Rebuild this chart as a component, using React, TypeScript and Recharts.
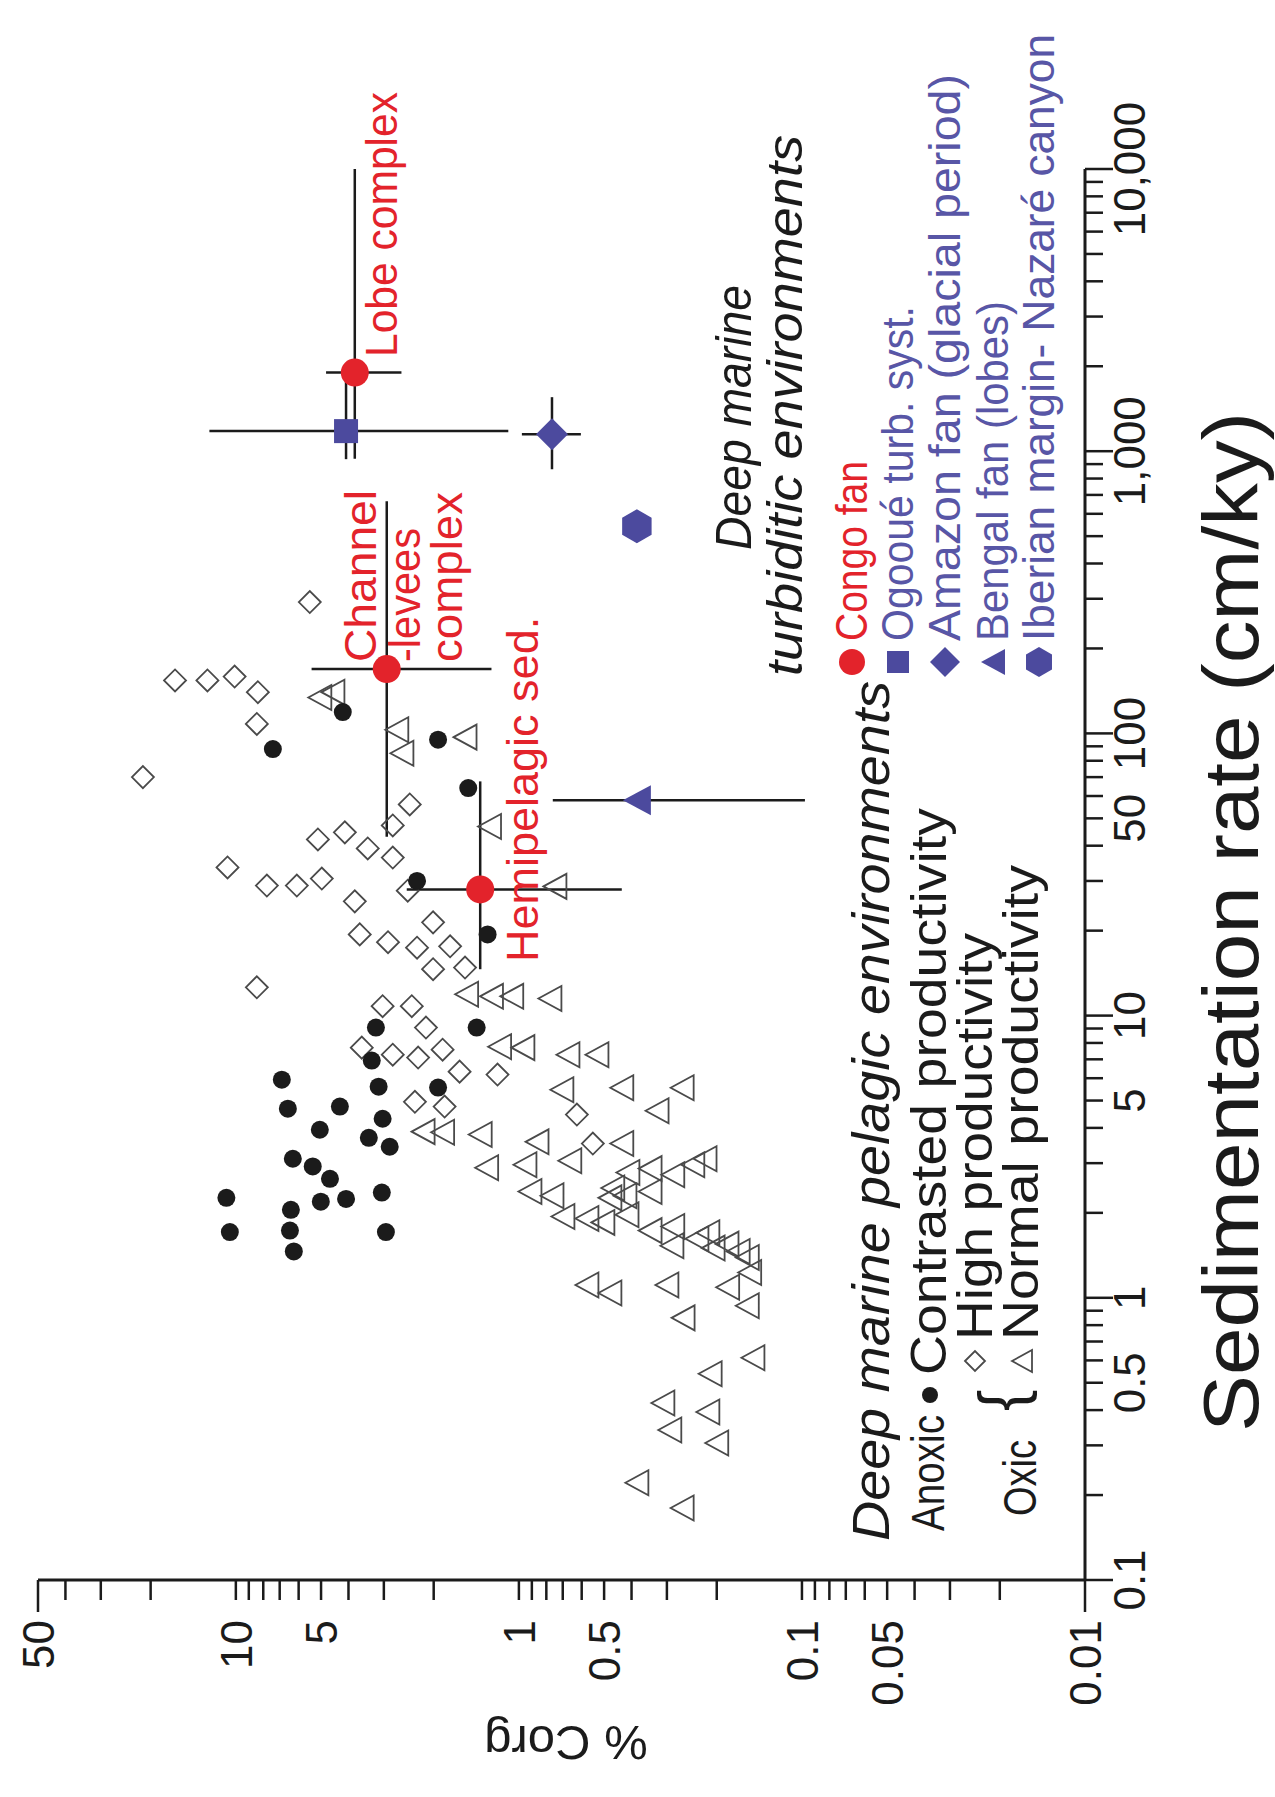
import { ScatterChart, Scatter, XAxis, YAxis, ErrorBar } from "recharts";

// The figure is printed rotated 90° counter-clockwise; the chart is drawn upright and the box is turned.
const W = 1797;
const H = 1275;
const FONT = "'Liberation Sans', Arial, Helvetica, sans-serif";
const RED = "#e3232b";
const BLUE = "#4c4a9e";
const BLUE_TEXT = "#5856a6";
const INK = "#1b1b1b";
const OPEN = "#4a4a4a";

// axis ticks
const sedTicks = [
  0.1, 0.2, 0.3, 0.4, 0.5, 0.6, 0.7, 0.8, 0.9, 1, 2, 3, 4, 5, 6, 7, 8, 9, 10, 20, 30, 40, 50, 60, 70, 80, 90,
  100, 200, 300, 400, 500, 600, 700, 800, 900, 1000, 2000, 3000, 4000, 5000, 6000, 7000, 8000, 9000, 10000,
];
const sedMajorTicks = [0.1, 1, 10, 100, 1000, 10000];
const sedLabelValues = [0.1, 0.5, 1, 5, 10, 50, 100, 1000, 10000];
const sedLabelText = ["0.1", "0.5", "1", "5", "10", "50", "100", "1,000", "10,000"];

const corgTicks = [
  0.01, 0.02, 0.03, 0.04, 0.05, 0.06, 0.07, 0.08, 0.09, 0.1, 0.2, 0.3, 0.4, 0.5, 0.6, 0.7, 0.8, 0.9, 1, 2, 3, 4,
  5, 6, 7, 8, 9, 10, 20, 30, 40, 50,
];
const corgLongTicks = [0.01, 50];
const corgLabelValues = [50, 10, 5, 1, 0.5, 0.1, 0.05, 0.01];
const corgLabelText = ["50", "10", "5", "1", "0.5", "0.1", "0.05", "0.01"];

// Deep marine pelagic environments: [sedimentation rate cm/ky, % Corg]
const anoxicContrasted: [number, number][] = [
  [119, 4.19], [88, 7.4], [95, 1.93], [64, 1.51], [30, 2.29], [19.4, 1.29],
  [9.07, 3.2], [9.07, 1.41], [6.93, 3.31], [5.93, 6.88], [5.6, 3.13], [5.56, 1.93],
  [4.68, 6.55], [4.76, 4.29], [4.31, 3.03], [3.94, 5.05], [3.69, 3.39], [3.43, 2.86],
  [3.11, 6.29], [2.92, 5.35], [2.64, 4.65], [2.26, 10.8], [2.19, 5.01], [2.24, 4.08],
  [2.36, 3.05], [2.05, 6.39], [1.71, 10.5], [1.73, 6.44], [1.71, 2.95], [1.46, 6.24],
];

const oxicHigh: [number, number][] = [
  [292, 5.48], [154, 16.4], [154, 12.6], [159, 10.1], [140, 8.36], [108, 8.43], [70, 21.3],
  [33.5, 10.7], [28.9, 7.77], [28.9, 6.09], [30.6, 4.97], [42.1, 5.13], [44.6, 4.12], [39.1, 3.42],
  [47.2, 2.79], [56, 2.43], [36.3, 2.79], [25.4, 3.8], [27.7, 2.47],
  [19.4, 3.65], [18.2, 2.9], [17.4, 2.29], [21.4, 2.01], [17.6, 1.75], [14.6, 2.01], [14.8, 1.55],
  [12.6, 8.43], [10.8, 3.03], [10.8, 2.39], [9.07, 2.13], [7.7, 3.59], [7.27, 2.79], [7.1, 2.27],
  [7.57, 1.86], [6.33, 1.62], [6.18, 1.19], [4.95, 2.33], [4.76, 1.83], [4.46, 0.624], [3.52, 0.548],
];

const oxicNormal: [number, number][] = [
  [134, 5.05], [140, 4.54], [103, 2.7], [85, 2.59], [97, 1.55], [46.8, 1.27], [28.7, 0.746],
  [11.9, 1.53], [11.7, 1.25], [11.7, 1.06], [11.5, 0.777], [7.76, 1.17], [7.7, 0.968],
  [7.27, 0.671], [7.27, 0.53], [5.46, 0.705], [5.55, 0.433], [5.55, 0.265], [4.6, 0.325],
  [3.88, 2.18], [3.86, 1.86], [3.79, 1.37], [3.57, 0.863], [3.52, 0.433], [2.89, 1.3],
  [2.96, 0.952], [3.06, 0.661], [2.38, 0.914], [2.3, 0.764],
  [2.45, 0.466], [2.78, 0.412], [2.87, 0.344], [2.73, 0.286], [2.96, 0.243], [3.11, 0.22],
  [2.26, 0.477], [2.3, 0.422], [2.38, 0.344], [1.94, 0.699], [1.91, 0.575], [1.85, 0.505],
  [1.97, 0.415], [1.73, 0.344], [1.79, 0.286], [1.53, 0.288], [1.62, 0.235], [1.7, 0.215],
  [1.5, 0.206], [1.55, 0.184], [1.46, 0.168], [1.39, 0.156], [1.23, 0.153], [1.09, 0.183],
  [0.937, 0.156], [1.11, 0.575], [1.04, 0.477], [1.11, 0.3], [0.849, 0.263], [0.613, 0.149],
  [0.538, 0.211], [0.424, 0.31], [0.394, 0.215], [0.34, 0.293], [0.306, 0.2], [0.221, 0.383],
  [0.18, 0.265],
];

// Deep marine turbiditic environments (value, then min–max ranges)
interface TurbRow {
  sed: number;
  corg: number;
  sedRange?: [number, number];
  corgRange?: [number, number];
}
const congoFan: TurbRow[] = [
  { sed: 1900, corg: 3.8, sedRange: [940, 10000], corgRange: [2.6, 4.8] }, // lobe complex
  { sed: 169, corg: 2.93, sedRange: [43, 665], corgRange: [1.25, 5.4] }, // channel-levees complex
  { sed: 28, corg: 1.37, sedRange: [14.6, 67.6], corgRange: [0.433, 2.49] }, // hemipelagic sed.
];
const ogooue: TurbRow[] = [{ sed: 1178, corg: 4.08, sedRange: [937, 1800], corgRange: [1.09, 12.4] }];
const amazonFan: TurbRow[] = [{ sed: 1148, corg: 0.764, sedRange: [863, 1554], corgRange: [0.604, 0.976] }];
const bengalFan: TurbRow[] = [{ sed: 58, corg: 0.383, corgRange: [0.0976, 0.759] }];
const iberianMargin: TurbRow[] = [{ sed: 542, corg: 0.383 }];

const near = (a: number, b: number) => Math.abs(a - b) < a * 1e-6;
const toPoints = (rows: [number, number][]) => rows.map(([sed, corg]) => ({ sed, corg }));
const withErrors = (rows: TurbRow[]) =>
  rows.map((r) => ({
    ...r,
    sedErr: r.sedRange ? [r.sed - r.sedRange[0], r.sedRange[1] - r.sed] : [0, 0],
    corgErr: r.corgRange ? [r.corg - r.corgRange[0], r.corgRange[1] - r.corg] : [0, 0],
  }));

const allBars = withErrors([...congoFan, ...ogooue, ...amazonFan, ...bengalFan]);

// marker shapes
function FilledDot({ cx, cy, r = 9 }: any) {
  return <circle cx={cx} cy={cy} r={r} fill={INK} />;
}
function OpenDiamond({ cx, cy, s = 11 }: any) {
  return (
    <path d={`M${cx},${cy - s}L${cx + s},${cy}L${cx},${cy + s}L${cx - s},${cy}Z`} fill="none" stroke={OPEN} strokeWidth={1.8} />
  );
}
function OpenTriangle({ cx, cy, w = 12.5, h = 11.5 }: any) {
  return (
    <path d={`M${cx},${cy - h}L${cx + w},${cy + h}L${cx - w},${cy + h}Z`} fill="none" stroke={OPEN} strokeWidth={1.8} />
  );
}
function RedDot({ cx, cy, r = 14 }: any) {
  return <circle cx={cx} cy={cy} r={r} fill={RED} />;
}
function BlueSquare({ cx, cy, s = 12 }: any) {
  return <rect x={cx - s} y={cy - s} width={2 * s} height={2 * s} fill={BLUE} />;
}
function BlueDiamond({ cx, cy, s = 16 }: any) {
  return <path d={`M${cx},${cy - s}L${cx + s},${cy}L${cx},${cy + s}L${cx - s},${cy}Z`} fill={BLUE} />;
}
function BlueTriangle({ cx, cy, w = 15, h = 14 }: any) {
  return <path d={`M${cx},${cy - h}L${cx + w},${cy + h}L${cx - w},${cy + h}Z`} fill={BLUE} />;
}
function BlueHexagon({ cx, cy, r = 17 }: any) {
  const pts = [0, 60, 120, 180, 240, 300]
    .map((a) => `${cx + r * Math.cos((a * Math.PI) / 180)},${cy + r * Math.sin((a * Math.PI) / 180)}`)
    .join(" ");
  return <polygon points={pts} fill={BLUE} />;
}
const Nothing = () => <g />;

function SedTick(props: any) {
  const { x, y, payload } = props;
  const v = payload.value as number;
  const li = sedLabelValues.findIndex((t) => near(t, v));
  const major = sedMajorTicks.some((t) => near(t, v));
  return (
    <g>
      <line x1={x} y1={y} x2={x} y2={y + (major ? 28 : 18)} stroke={INK} strokeWidth={2.5} />
      {li >= 0 && (
        <text x={x} y={y + 60} textAnchor="middle" fontSize={44} fontFamily={FONT} fill={INK}>
          {sedLabelText[li]}
        </text>
      )}
    </g>
  );
}

function CorgTick(props: any) {
  const { x, y, payload } = props;
  const v = payload.value as number;
  const li = corgLabelValues.findIndex((t) => near(t, v));
  const len = corgLongTicks.some((t) => near(t, v)) ? 32 : 20;
  return (
    <g>
      <line x1={x - len} y1={y} x2={x} y2={y} stroke={INK} strokeWidth={2.5} />
      {li >= 0 && (
        <text x={x - 40} y={y + 16} textAnchor="end" fontSize={44} fontFamily={FONT} fill={INK}>
          {corgLabelText[li]}
        </text>
      )}
    </g>
  );
}

function Txt({ x, y, size, fill = INK, italic, len, anchor = "start", children }: any) {
  return (
    <text
      x={x}
      y={y}
      fontSize={size}
      fontFamily={FONT}
      fill={fill}
      fontStyle={italic ? "italic" : "normal"}
      textAnchor={anchor}
      textLength={len}
      lengthAdjust={len ? "spacingAndGlyphs" : undefined}
    >
      {children}
    </text>
  );
}

export default function App() {
  return (
    <div style={{ position: "absolute", left: 0, top: 0, width: H, height: W, overflow: "hidden", background: "#fff" }}>
      <div
        style={{
          position: "absolute",
          left: 0,
          top: 0,
          width: W,
          height: H,
          transformOrigin: "0 0",
          transform: `translateY(${W}px) rotate(-90deg)`,
        }}
      >
        <ScatterChart width={W} height={H} margin={{ top: 38, right: 169, bottom: 0, left: 0 }}>
          <XAxis
            type="number"
            dataKey="sed"
            scale="log"
            domain={[0.1, 10000]}
            allowDataOverflow
            ticks={sedTicks}
            interval={0}
            tick={(p: any) => <SedTick {...p} />}
            tickLine={false}
            tickSize={0}
            tickMargin={0}
            height={190}
            axisLine={{ stroke: INK, strokeWidth: 3 }}
          />
          <YAxis
            type="number"
            dataKey="corg"
            scale="log"
            domain={[0.01, 50]}
            allowDataOverflow
            ticks={corgTicks}
            interval={0}
            tick={(p: any) => <CorgTick {...p} />}
            tickLine={false}
            tickSize={0}
            tickMargin={0}
            width={217}
            axisLine={{ stroke: INK, strokeWidth: 3 }}
          />
          <Scatter data={toPoints(oxicNormal)} shape={(p: any) => <OpenTriangle cx={p.cx} cy={p.cy} />} isAnimationActive={false} />
          <Scatter data={toPoints(oxicHigh)} shape={(p: any) => <OpenDiamond cx={p.cx} cy={p.cy} />} isAnimationActive={false} />
          <Scatter data={toPoints(anoxicContrasted)} shape={(p: any) => <FilledDot cx={p.cx} cy={p.cy} />} isAnimationActive={false} />
          <Scatter data={allBars} shape={Nothing} isAnimationActive={false}>
            <ErrorBar dataKey="sedErr" direction="x" width={0} stroke={INK} strokeWidth={2.5} isAnimationActive={false} />
            <ErrorBar dataKey="corgErr" direction="y" width={0} stroke={INK} strokeWidth={2.5} isAnimationActive={false} />
          </Scatter>
          <Scatter data={ogooue} shape={(p: any) => <BlueSquare cx={p.cx} cy={p.cy} />} isAnimationActive={false} />
          <Scatter data={amazonFan} shape={(p: any) => <BlueDiamond cx={p.cx} cy={p.cy} />} isAnimationActive={false} />
          <Scatter data={bengalFan} shape={(p: any) => <BlueTriangle cx={p.cx} cy={p.cy} />} isAnimationActive={false} />
          <Scatter data={iberianMargin} shape={(p: any) => <BlueHexagon cx={p.cx} cy={p.cy} />} isAnimationActive={false} />
          <Scatter data={congoFan} shape={(p: any) => <RedDot cx={p.cx} cy={p.cy} />} isAnimationActive={false} />
        </ScatterChart>

        <svg width={W} height={H} style={{ position: "absolute", left: 0, top: 0, pointerEvents: "none" }}>
          {/* axis titles */}
          <Txt x={365} y={1258} size={78} len={1020}>
            Sedimentation rate (cm/ky)
          </Txt>
          <text
            transform="translate(54,566) rotate(-90)"
            textAnchor="middle"
            dominantBaseline="central"
            fontSize={49}
            fontFamily={FONT}
            fill={INK}
          >
            % Corg
          </text>

          {/* Congo fan annotations */}
          <Txt x={1440} y={397} size={45} fill={RED} len={265}>
            Lobe complex
          </Txt>
          <Txt x={1135} y={376} size={45} fill={RED} len={172}>
            Channel
          </Txt>
          <Txt x={1135} y={420} size={45} fill={RED} len={134}>
            -levees
          </Txt>
          <Txt x={1135} y={462} size={45} fill={RED} len={170}>
            complex
          </Txt>
          <Txt x={835} y={538} size={45} fill={RED}>
            Hemipelagic sed.
          </Txt>

          {/* turbiditic legend */}
          <Txt x={1247} y={751} size={50} italic len={265}>
            Deep marine
          </Txt>
          <Txt x={1121} y={802} size={50} italic len={541}>
            turbiditic environments
          </Txt>
          <RedDot cx={1135} cy={852} r={13} />
          <Txt x={1156} y={867} size={45} fill={RED} len={180}>
            Congo fan
          </Txt>
          <BlueSquare cx={1135} cy={898} s={11} />
          <Txt x={1156} y={913} size={45} fill={BLUE_TEXT} len={335}>
            Ogooué turb. syst.
          </Txt>
          <BlueDiamond cx={1135} cy={945} s={15} />
          <Txt x={1156} y={960} size={45} fill={BLUE_TEXT} len={567}>
            Amazon fan (glacial period)
          </Txt>
          <BlueTriangle cx={1135} cy={993} w={13} h={12} />
          <Txt x={1156} y={1008} size={45} fill={BLUE_TEXT} len={340}>
            Bengal fan (lobes)
          </Txt>
          <BlueHexagon cx={1135} cy={1039} r={15} />
          <Txt x={1156} y={1054} size={45} fill={BLUE_TEXT} len={607}>
            Iberian margin- Nazaré canyon
          </Txt>

          {/* pelagic legend */}
          <Txt x={256} y={889} size={52} italic len={860}>
            Deep marine pelagic environments
          </Txt>
          <Txt x={266} y={944} size={46} len={116}>
            Anoxic
          </Txt>
          <FilledDot cx={402} cy={930} r={8} />
          <Txt x={422} y={946} size={50} len={567}>
            Contrasted productivity
          </Txt>
          <Txt x={281} y={1036} size={46} len={76}>
            Oxic
          </Txt>
          <Txt x={386} y={1024} size={64}>
            {"{"}
          </Txt>
          <OpenDiamond cx={436} cy={975} s={10} />
          <Txt x={457} y={992} size={50} len={407}>
            High productivity
          </Txt>
          <OpenTriangle cx={436} cy={1022} w={11} h={10} />
          <Txt x={457} y={1038} size={50} len={475}>
            Normal productivity
          </Txt>
        </svg>
      </div>
    </div>
  );
}
